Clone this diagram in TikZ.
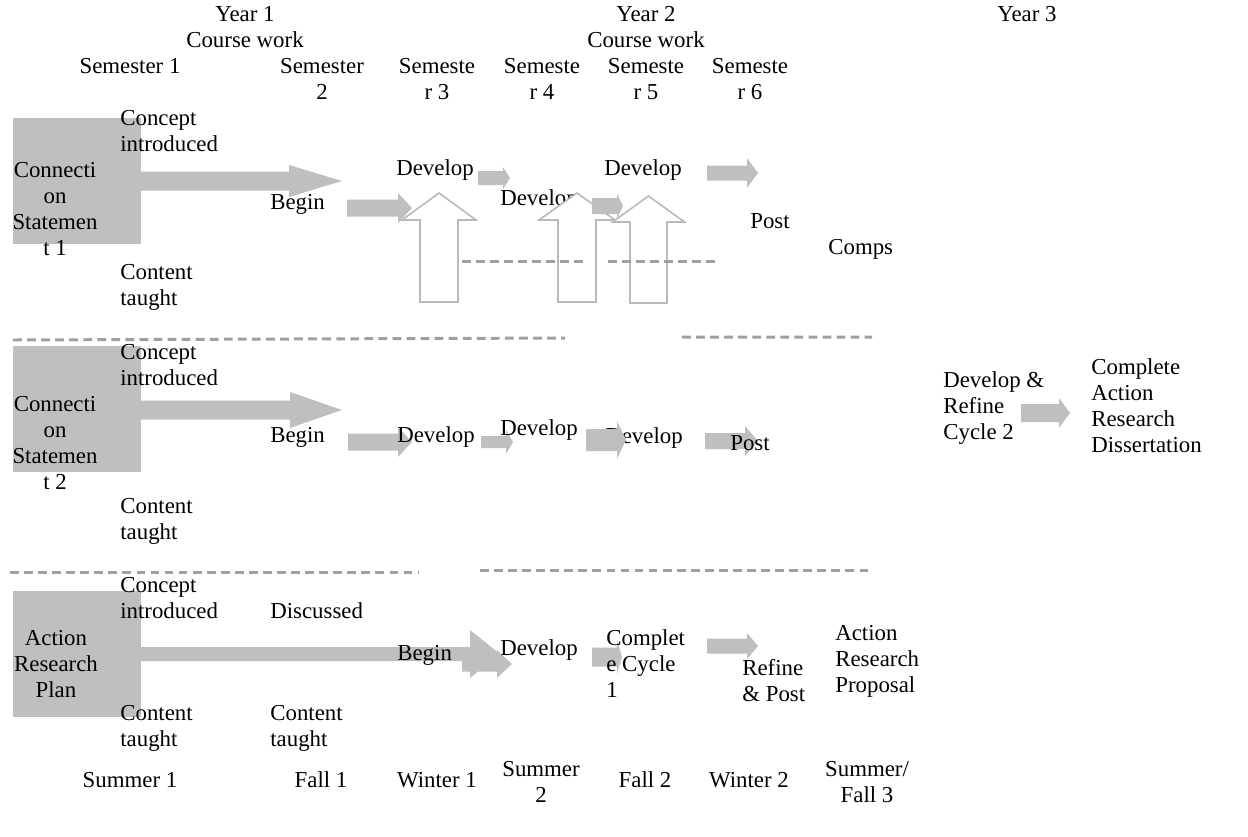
\documentclass[tikz,border=0pt]{standalone}
\usepackage{fontspec}
\setmainfont{Liberation Serif}
\begin{document}
\begin{tikzpicture}[x=0.02cm, y=-0.02cm, line join=miter,
	font=\fontsize{13}{14.8}\selectfont,
	lbl/.style={inner sep=0, align=left, anchor=west},
	ctr/.style={inner sep=0, align=center},
	blk/.style={fill=gray!50},
	hollow/.style={draw=gray!55, fill=white, line width=0.9pt},
	sepline/.style={draw=gray!75, line width=1.7pt, dash pattern=on 5pt off 3pt}]
	% block arrow: x start, x tip, y centre, shaft half, head start, head half
	\def\harr#1#2#3#4#5#6{\fill[blk] (#1,#3-#4) -- (#5,#3-#4) -- (#5,#3-#6) -- (#2,#3) -- (#5,#3+#6) -- (#5,#3+#4) -- (#1,#3+#4) -- cycle;}
	% hollow up arrow: x centre, shaft half, head half, tip y, base y, bottom y
	\def\uarr#1#2#3#4#5#6{\draw[hollow] (#1-#2,#6) -- (#1-#2,#5) -- (#1-#3,#5) -- (#1,#4) -- (#1+#3,#5) -- (#1+#2,#5) -- (#1+#2,#6) -- cycle;}
	\useasboundingbox (0,0) rectangle (1248,836);
	% header
	\node[ctr] (yr1) at (245,14) {Year 1};
	\node[ctr] (cw1) at (245,40) {Course work};
	\node[ctr] (yr2) at (646,14) {Year 2};
	\node[ctr] (cw2) at (646,40) {Course work};
	\node[ctr] (yr3) at (1027,14) {Year 3};
	\node[ctr] (sem1) at (130,66) {Semester 1};
	\node[ctr] (sem2) at (322,79) {Semester\\2};
	\node[ctr] (sem3) at (437,79) {Semeste\\r 3};
	\node[ctr] (sem4) at (542,79) {Semeste\\r 4};
	\node[ctr] (sem5) at (646,79) {Semeste\\r 5};
	\node[ctr] (sem6) at (750,79) {Semeste\\r 6};
	% row 1
	\fill[blk] (13,118) rectangle (141,244);
	\node[ctr] (stmt1) at (55,209) {Connecti\\on\\Statemen\\t 1};
	\node[lbl] (intro1) at (120,131) {Concept\\introduced};
	\node[lbl] (taught1) at (120,287) {Content\\taught};
	\harr{141}{342}{181}{9.5}{289}{16}
	\node[lbl] (begin1) at (270,204) {Begin};
	\harr{347}{412}{208}{8.5}{398}{15}
	\node[lbl] (dev1a) at (396,170) {Develop};
	\harr{478}{510}{178}{7}{503}{11}
	\node[lbl] (dev1b) at (500,200) {Develop};
	\node[lbl] (dev1c) at (604,170) {Develop};
	\uarr{439}{19}{37}{193}{220}{302}
	\uarr{577}{19}{38}{193}{220}{302}
	\harr{592}{623}{206}{8}{617}{12}
	\uarr{648.5}{18.5}{36}{196}{222}{303}
	\harr{707}{758}{173}{7.5}{747}{15}
	\node[lbl] (post1) at (750,221) {Post};
	\node[lbl] (comps) at (828,249) {Comps};
	\draw[sepline] (462,261) -- (585,261) (608,261) -- (718,261);
	\draw[sepline] (13,340) -- (565,338) (682,337) -- (872,337);
	% row 2
	\fill[blk] (13,346) rectangle (141,472);
	\node[ctr] (stmt2) at (55,443) {Connecti\\on\\Statemen\\t 2};
	\node[lbl] (intro2) at (120,365) {Concept\\introduced};
	\node[lbl] (taught2) at (120,521) {Content\\taught};
	\harr{141}{342}{410}{9.5}{290}{18}
	\node[lbl] (begin2) at (270,437) {Begin};
	\harr{348}{412}{442}{8.5}{398}{15}
	\harr{481}{513}{442}{6}{506}{12}
	\node[lbl] (dev2c) at (605,438) {Develop};
	\harr{586}{626}{440}{11}{617}{19}
	\harr{705}{758}{441}{8}{745}{15}
	\node[lbl] (dev2a) at (397,437) {Develop};
	\node[lbl] (dev2b) at (500,430) {Develop};
	\node[lbl] (post2) at (730,443) {Post};
	\node[lbl] (cyc2) at (943,408) {Develop \&\\Refine\\Cycle 2};
	\harr{1021}{1070}{413}{9}{1059}{15}
	\node[lbl] (diss) at (1091,406) {Complete\\Action\\Research\\Dissertation};
	\draw[sepline] (10,572) -- (418,572) (480,570) -- (870,570);
	% row 3
	\fill[blk] (13,591) rectangle (141,717);
	\node[ctr] (arplan) at (56,664) {Action\\Research\\Plan};
	\node[lbl] (intro3) at (120,598) {Concept\\introduced};
	\node[lbl] (disc) at (270,611) {Discussed};
	\node[lbl] (taught3a) at (120,728) {Content\\taught};
	\node[lbl] (taught3b) at (270,728) {Content\\taught};
	\harr{141}{500}{654}{7}{470}{24}
	\node[lbl] (begin3) at (397,655) {Begin};
	\harr{462}{512}{664}{7.5}{497}{14}
	\node[lbl] (dev3) at (500,650) {Develop};
	\harr{592}{622}{657}{9.5}{617}{17}
	\node[lbl] (cyc1) at (606,664) {Complet\\e Cycle\\1};
	\harr{707}{758}{646}{7.5}{747}{13}
	\node[lbl] (refine) at (742,681) {Refine\\\& Post};
	\node[lbl] (proposal) at (835,661) {Action\\Research\\Proposal};
	% terms
	\node[ctr] (su1) at (130,780) {Summer 1};
	\node[ctr] (fa1) at (321,780) {Fall 1};
	\node[ctr] (wi1) at (437,780) {Winter 1};
	\node[ctr] (su2) at (541,782) {Summer\\2};
	\node[ctr] (fa2) at (645,780) {Fall 2};
	\node[ctr] (wi2) at (749,780) {Winter 2};
	\node[ctr] (su3) at (867,782) {Summer/\\Fall 3};
\end{tikzpicture}
\end{document}
